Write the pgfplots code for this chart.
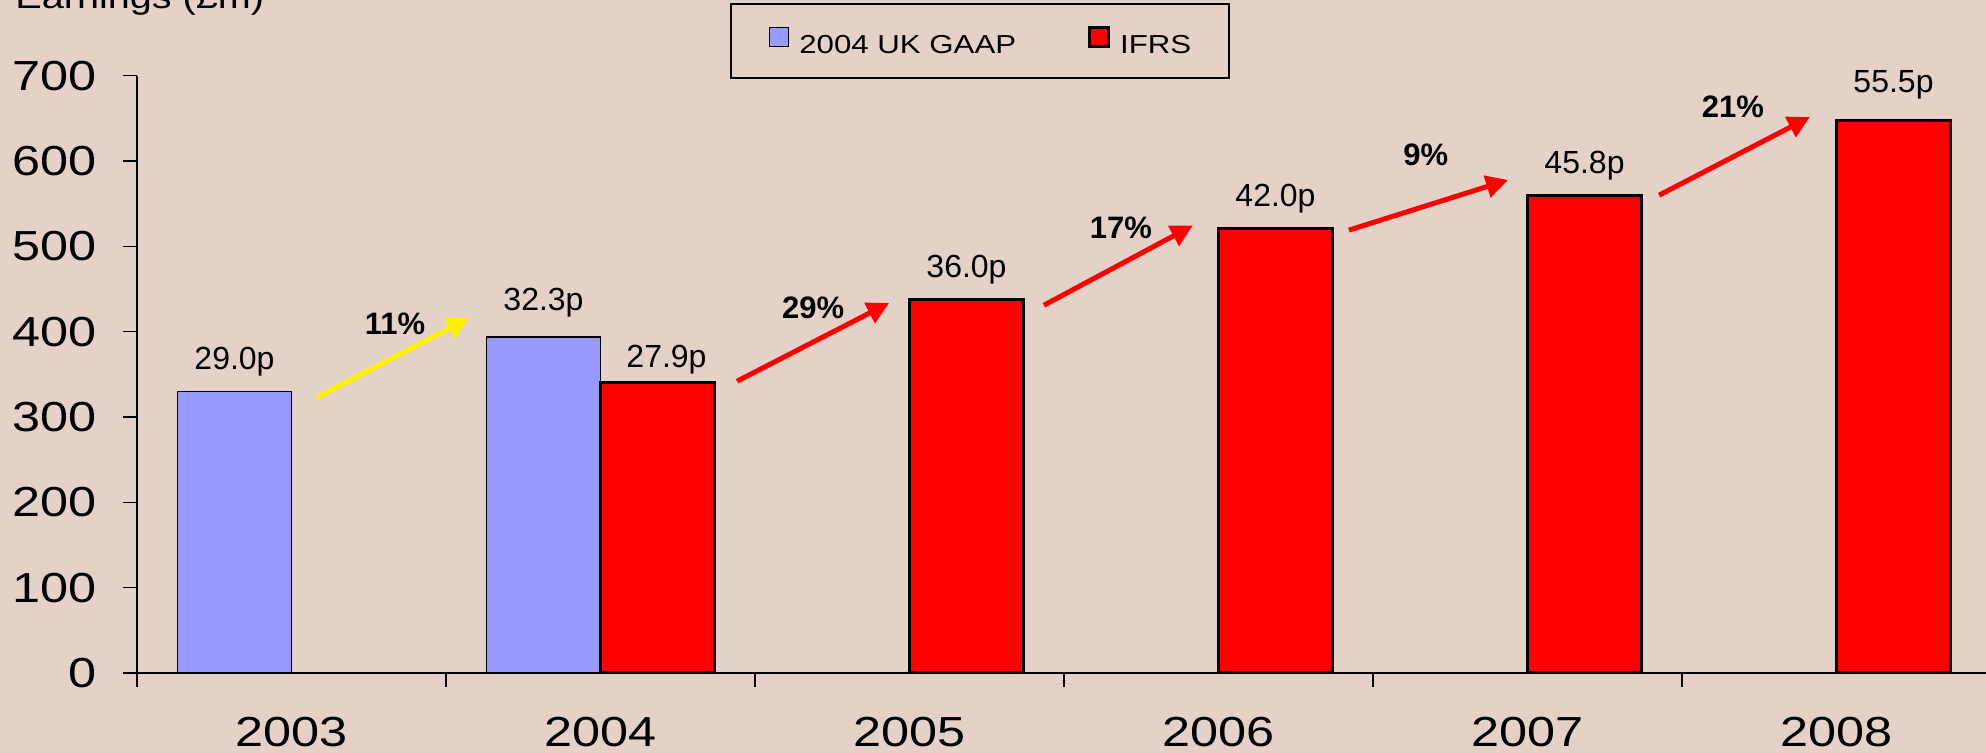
\documentclass[border=0pt]{standalone}
\usepackage{pgfplots}
\pgfplotsset{compat=1.18}
\usepackage{fontspec}
\setmainfont{Liberation Sans}
\newfontfamily\widefont{Liberation Sans}[FakeStretch=1.2]
\usetikzlibrary{arrows.meta}
\definecolor{bgc}{RGB}{228,209,200}
\definecolor{gaap}{RGB}{153,153,255}

\begin{document}
\begin{tikzpicture}
\path[use as bounding box, fill=bgc] (0,0) rectangle (993pt,376.5pt);
\clip (0,0) rectangle (993pt,376.5pt);
\node[anchor=base west, inner sep=0pt, font=\widefont\fontsize{16.5}{18}\selectfont] at (7.5pt,372pt) {Earnings (£m)};
\begin{axis}[
  at={(68.5pt,40pt)}, anchor=south west,
  scale only axis, width=927pt, height=298.65pt,
  xmin=-0.5, xmax=5.5, ymin=0, ymax=700,
  clip=false,
  axis lines*=left,
  axis line style={line width=0.75pt, black, -},
  tick align=outside,
  major tick length=7pt,
  tick style={black, line width=0.75pt},
  ytick={0,100,...,700},
  /pgf/number format/assume math mode=true,
  yticklabel style={font=\widefont\fontsize{21}{24}\selectfont, anchor=east, inner sep=0pt, xshift=-13pt},
  xtick={-0.5,0.5,...,5.5},
  xticklabels={},
  extra x ticks={0,1,2,3,4,5},
  extra x tick labels={2003,2004,2005,2006,2007,2008},
  extra x tick style={major tick length=0pt},
  xticklabel style={font=\widefont\fontsize{21}{24}\selectfont, anchor=north, inner sep=0pt, yshift=-22pt},
  legend columns=2,
  legend image code/.code={\draw[#1] (0pt,-0.3pt) rectangle (9.5pt,9.2pt);},
  legend style={at={(0.3198,1.1217)}, anchor=north west, draw=black, line width=1pt, fill=none,
    inner xsep=19pt, inner ysep=11pt, font=\widefont\fontsize{13}{15}\selectfont,
    nodes={inner sep=0pt},
    /tikz/every odd column/.append style={column sep=5pt},
    /tikz/every even column/.append style={column sep=36pt}},
  every node near coord/.append style={font=\fontsize{16}{18}\selectfont, anchor=base, inner sep=0pt, yshift=11pt},
]
\addplot[ybar, bar width=57pt, bar shift=-28.5pt, fill=gaap, draw=black, line width=0.75pt,
  point meta=explicit symbolic, nodes near coords,
  every node near coord/.append style={xshift=-28.5pt}] coordinates {
  (0,330) [29.0p]
  (1,394) [\raisebox{2.2pt}{32.3p}]
};
\addlegendentry{2004 UK GAAP}
\addplot[ybar, bar width=57pt, bar shift=28.5pt, fill=red, draw=black, line width=1.5pt,
  point meta=explicit symbolic, nodes near coords,
  every node near coord/.append style={xshift=28.5pt}] coordinates {
  (1,340) [\raisebox{-3.5pt}{\hspace{9pt}27.9p}]
  (2,438) [36.0p]
  (3,521) [42.0p]
  (4,560) [45.8p]
  (5,648) [\raisebox{3pt}{55.5p}]
};
\addlegendentry{IFRS}

\draw[yellow, line width=2.5pt, -{Triangle[length=11pt,width=11pt]}] (axis cs:0.0825,323) -- (axis cs:0.574,416);
\draw[red, line width=2.5pt, -{Triangle[length=11pt,width=11pt]}] (axis cs:1.442,342) -- (axis cs:1.934,433.6);
\draw[red, line width=2.5pt, -{Triangle[length=11pt,width=11pt]}] (axis cs:2.435,431) -- (axis cs:2.917,524.4);
\draw[red, line width=2.5pt, -{Triangle[length=11pt,width=11pt]}] (axis cs:3.422,519) -- (axis cs:3.937,577.8);
\draw[red, line width=2.5pt, -{Triangle[length=11pt,width=11pt]}] (axis cs:4.426,560) -- (axis cs:4.914,651.6);

\begin{scope}[every node/.style={font=\bfseries\fontsize{15.5}{17}\selectfont, inner sep=0pt}]
\node at (axis cs:0.335,409) {11\%};
\node at (axis cs:1.688,427.7) {29\%};
\node at (axis cs:2.684,522) {17\%};
\node at (axis cs:3.671,607) {9\%};
\node at (axis cs:4.665,663.3) {21\%};
\end{scope}
\end{axis}
\end{tikzpicture}
\end{document}
